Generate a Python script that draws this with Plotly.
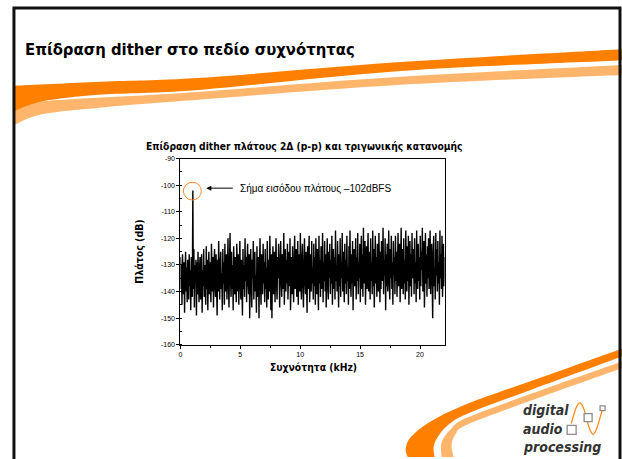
import numpy as np
import plotly.graph_objects as go

W, H = 622, 459

# ---------------- data ----------------
f_max_khz = 22.05
level_db = [
    -127, -139, -130, -145, -126, -136, -141, -129, -148, -133, -125, -140, -131, -144, -128, -137,
    -143, -126, -138, -132, -147, -127, -135, -142, -102, -139, -124, -146, -130, -137, -128, -149,
    -129, -141, -125, -136, -144, -131, -127, -143, -134, -126, -148, -132, -138, -124, -142, -130,
    -136, -145, -123, -139, -128, -147, -133, -125, -141, -129, -137, -144, -122, -135, -140, -127,
    -146, -131, -124, -138, -142, -126, -135, -149, -128, -140, -121, -136, -143, -130, -125, -139,
    -133, -147, -124, -137, -129, -145, -122, -140, -131, -126, -143, -135, -120, -138, -146, -128,
    -118, -136, -142, -125, -139, -130, -147, -123, -134, -141, -127, -137, -144, -122, -132, -140,
    -126, -145, -131, -121, -138, -143, -128, -135, -149, -124, -139, -130, -142, -120, -136, -127,
    -144, -129, -122, -137, -141, -126, -150, -133, -124, -139, -146, -128, -135, -121, -143, -131,
    -125, -140, -134, -148, -123, -136, -142, -127, -150, -130, -120, -138, -145, -126, -133, -141,
    -122, -137, -129, -144, -124, -139, -131, -146, -121, -135, -143, -128, -140, -119, -134, -147,
    -126, -150, -132, -123, -141, -137, -125, -144, -130, -120, -138, -143, -127, -135, -122, -140,
    -146, -129, -121, -136, -142, -126, -139, -131, -118, -145, -133, -124, -140, -128, -137, -122,
    -143, -130, -125, -138, -120, -147, -134, -127, -141, -123, -136, -144, -129, -119, -139, -132,
    -124, -142, -137, -121, -145, -131, -126, -140, -118, -135, -143, -128, -122, -138, -146, -130,
    -120, -136, -141, -125, -133, -148, -123, -139, -129, -119, -144, -134, -126, -140, -121, -137,
    -131, -143, -122, -138, -127, -145, -120, -135, -141, -124, -132, -147, -119, -137, -128, -142,
    -123, -139, -134, -118, -144, -129, -136, -121, -140, -126, -146, -131, -120, -138, -143, -125,
    -135, -122, -141, -128, -137, -119, -145, -132, -124, -139, -127, -143, -117, -136, -130, -140,
    -121, -134, -146, -126, -138, -120, -142, -129, -135, -118, -140, -125, -133, -144, -122, -137,
    -128, -141, -119, -136, -131, -145, -123, -139, -117, -134, -142, -126, -137, -121, -147, -130,
    -124, -138, -133, -120, -143, -127, -136, -118, -141, -129, -135, -122, -144, -131, -119, -139,
    -126, -142, -116, -137, -130, -121, -145, -134, -123, -139, -128, -118, -140, -133, -125, -143,
    -120, -136, -129, -141, -117, -138, -124, -146, -132, -119, -137, -127, -142, -122, -135, -140,
    -118, -133, -144, -125, -139, -121, -136, -130, -116, -141, -128, -134, -120, -147, -126, -138,
    -122, -140, -131, -117, -137, -143, -124, -135, -119, -139, -129, -145, -121, -134, -127, -141,
    -119, -136, -125, -142, -130, -118, -138, -133, -122, -144, -127, -116, -139, -131, -124, -141,
    -120, -137, -128, -143, -117, -134, -140, -123, -136, -119, -145, -130, -121, -138, -126, -142,
    -118, -135, -131, -124, -141, -120, -137, -129, -144, -117, -133, -139, -122, -136, -127, -143,
    -119, -138, -125, -132, -116, -140, -130, -121, -146, -134, -118, -137, -126, -142, -123, -135,
    -120, -139, -128, -117, -141, -133, -122, -136, -150, -125, -119, -138, -131, -143, -118, -134,
    -124, -140, -121, -137, -129, -145, -117, -135, -126, -139, -119, -142, -130, -122, -138, -127,
]
freq_khz = np.linspace(0, f_max_khz, len(level_db))

x_ticks = [0, 5, 10, 15, 20]
x_tick_labels = ["0", "5", "10", "15", "20"]
y_ticks = [-160, -150, -140, -130, -120, -110, -100, -90]
y_tick_labels = ["-160", "-150", "-140", "-130", "-120", "-110", "-100", "-90"]

slide_title = "Επίδραση dither στο πεδίο συχνότητας"
chart_title = "Επίδραση dither πλάτους 2Δ (p-p) και τριγωνικής κατανομής"
x_title = "Συχνότητα (kHz)"
y_title = "Πλάτος (dB)"
note_text = "Σήμα εισόδου πλάτους –102dBFS"

# ---------------- helpers ----------------
def px(x):
    return x / W

def py(y):
    return 1 - y / H

def smooth(points):
    """Catmull-Rom through pixel points -> SVG bezier segments in paper coords."""
    segs = []
    n = len(points)
    for i in range(n - 1):
        p0 = points[max(i - 1, 0)]
        p1 = points[i]
        p2 = points[i + 1]
        p3 = points[min(i + 2, n - 1)]
        c1 = (p1[0] + (p2[0] - p0[0]) / 6, p1[1] + (p2[1] - p0[1]) / 6)
        c2 = (p2[0] - (p3[0] - p1[0]) / 6, p2[1] - (p3[1] - p1[1]) / 6)
        segs.append("C %.5f,%.5f %.5f,%.5f %.5f,%.5f" % (
            px(c1[0]), py(c1[1]), px(c2[0]), py(c2[1]), px(p2[0]), py(p2[1])))
    return " ".join(segs)

def band(upper, lower):
    s = "M %.5f,%.5f " % (px(upper[0][0]), py(upper[0][1]))
    s += smooth(upper)
    s += " L %.5f,%.5f " % (px(lower[-1][0]), py(lower[-1][1]))
    rev = lower[::-1]
    s += smooth(rev)
    s += " Z"
    return s

DARK = "#FF8000"
LIGHT = "#FFB66C"
FONT_B = "DejaVu Sans Condensed, DejaVu Sans"

shapes = []
# top swoosh
dark_top_u = [(12, 83), (100, 79), (200, 75), (400, 59), (622, 46)]
dark_top_l = [(12, 109), (40, 99), (100, 92), (200, 87), (400, 68), (622, 57)]
light_top_u = [(12, 105), (40, 99), (100, 95), (200, 89), (400, 74), (622, 62)]
light_top_l = [(12, 123), (40, 112), (100, 105), (200, 97), (400, 82), (622, 72)]
shapes.append(dict(type="path", xref="paper", yref="paper", layer="below",
                   path=band(light_top_u, light_top_l), fillcolor=LIGHT, line=dict(width=0)))
shapes.append(dict(type="path", xref="paper", yref="paper", layer="below",
                   path=band(dark_top_u, dark_top_l), fillcolor=DARK, line=dict(width=0)))

# bottom-right swoosh
dark_br_o = [(622, 350), (533, 382), (467, 406), (430, 424), (410, 440), (405, 452), (407, 460)]
dark_br_i = [(622, 358), (533, 391), (467, 416), (447, 428), (437, 440), (433, 450), (434, 460)]
light_br_o = [(622, 363), (533, 395), (467, 420), (450, 432), (441, 445), (441, 460)]
light_br_i = [(622, 370), (533, 402), (467, 427), (455, 437), (451, 448), (453, 460)]
shapes.append(dict(type="path", xref="paper", yref="paper", layer="below",
                   path=band(light_br_o, light_br_i), fillcolor=LIGHT, line=dict(width=0)))
shapes.append(dict(type="path", xref="paper", yref="paper", layer="below",
                   path=band(dark_br_o, dark_br_i), fillcolor=DARK, line=dict(width=0)))

# slide frame
shapes.append(dict(type="path", xref="paper", yref="paper",
                   path="M %.5f,%.5f L %.5f,%.5f L %.5f,%.5f L %.5f,%.5f" % (
                       px(12), py(462), px(12), py(4), px(620), py(4), px(620), py(462)),
                   line=dict(color="#111111", width=3)))

# logo sine + squares
sine_pts = [(571, 426), (576, 410), (580, 405), (584, 412), (589, 430), (593, 437), (597, 430), (602, 413)]
shapes.append(dict(type="path", xref="paper", yref="paper",
                   path="M %.5f,%.5f " % (px(sine_pts[0][0]), py(sine_pts[0][1])) + smooth(sine_pts),
                   line=dict(color="#FF8A1E", width=1.3)))
for (x0, y0, s) in [(567, 428, 9), (584, 416, 8), (600, 408, 5)]:
    shapes.append(dict(type="rect", xref="paper", yref="paper",
                       x0=px(x0), x1=px(x0 + s), y0=py(y0 + s), y1=py(y0),
                       line=dict(color="#8C8C8C", width=1.3), fillcolor="white"))

# circle around the signal peak
shapes.append(dict(type="circle", xref="paper", yref="paper",
                   x0=px(182), x1=px(200), y0=py(199), y1=py(181),
                   line=dict(color="#FF8A30", width=1)))

annotations = [
    dict(text="<b>" + slide_title + "</b>", x=px(21), y=py(46), xref="paper", yref="paper",
         xanchor="left", yanchor="middle", showarrow=False,
         font=dict(family=FONT_B, size=16.5, color="black")),
    dict(text="<b>" + chart_title + "</b>", x=px(303), y=py(145), xref="paper", yref="paper",
         xanchor="center", yanchor="middle", showarrow=False,
         font=dict(family=FONT_B, size=10.2, color="black")),
    dict(text="<b>" + y_title + "</b>", x=px(138), y=py(252), xref="paper", yref="paper",
         xanchor="center", yanchor="middle", showarrow=False, textangle=-90,
         font=dict(family=FONT_B, size=10.5, color="black")),
    dict(text="<b>" + x_title + "</b>", x=px(313), y=py(369), xref="paper", yref="paper",
         xanchor="center", yanchor="middle", showarrow=False,
         font=dict(family=FONT_B, size=10.3, color="black")),
    dict(text=note_text, x=px(237), y=py(187), xref="paper", yref="paper",
         xanchor="left", yanchor="middle", showarrow=False,
         font=dict(family="Liberation Sans, Arial", size=10, color="black")),
    dict(text="", x=px(205), y=py(187), xref="paper", yref="paper",
         ax=28, ay=0, showarrow=True, arrowhead=2, arrowsize=1, arrowwidth=1, arrowcolor="black"),
]
for (t, yy) in [("digital", 412), ("audio", 432), ("processing", 450)]:
    annotations.append(dict(text="<b><i>" + t + "</i></b>", x=px(521), y=py(yy), xref="paper", yref="paper",
                            xanchor="left", yanchor="middle", showarrow=False,
                            font=dict(family=FONT_B, size=14, color="#333333")))

fig = go.Figure()
fig.add_trace(go.Scatter(x=freq_khz, y=level_db, mode="lines",
                         line=dict(color="black", width=1.4), hoverinfo="skip", showlegend=False))

axis_common = dict(showgrid=False, zeroline=False, showline=True, mirror=True,
                   linecolor="black", linewidth=1, ticks="outside", ticklen=3, tickwidth=1,
                   tickcolor="black",
                   tickfont=dict(family="Liberation Sans, Arial", size=7, color="black"))
fig.update_xaxes(domain=[px(179), px(444)], range=[0, f_max_khz],
                 tickvals=x_ticks, ticktext=x_tick_labels,
                 minor=dict(dtick=2.5, ticks="outside", ticklen=2, tickcolor="black"),
                 **axis_common)
fig.update_yaxes(domain=[py(346), py(157)], range=[-160, -90],
                 tickvals=y_ticks, ticktext=y_tick_labels,
                 minor=dict(dtick=5, ticks="inside", ticklen=2, tickcolor="black"),
                 **axis_common)

fig.update_layout(width=W, height=H, autosize=False,
                  margin=dict(l=0, r=0, t=0, b=0),
                  paper_bgcolor="white", plot_bgcolor="white",
                  shapes=shapes, annotations=annotations, showlegend=False)

fig.write_html("out.html", config={"displayModeBar": False},
               post_script="document.body.style.margin='0';document.body.style.overflow='hidden';")
